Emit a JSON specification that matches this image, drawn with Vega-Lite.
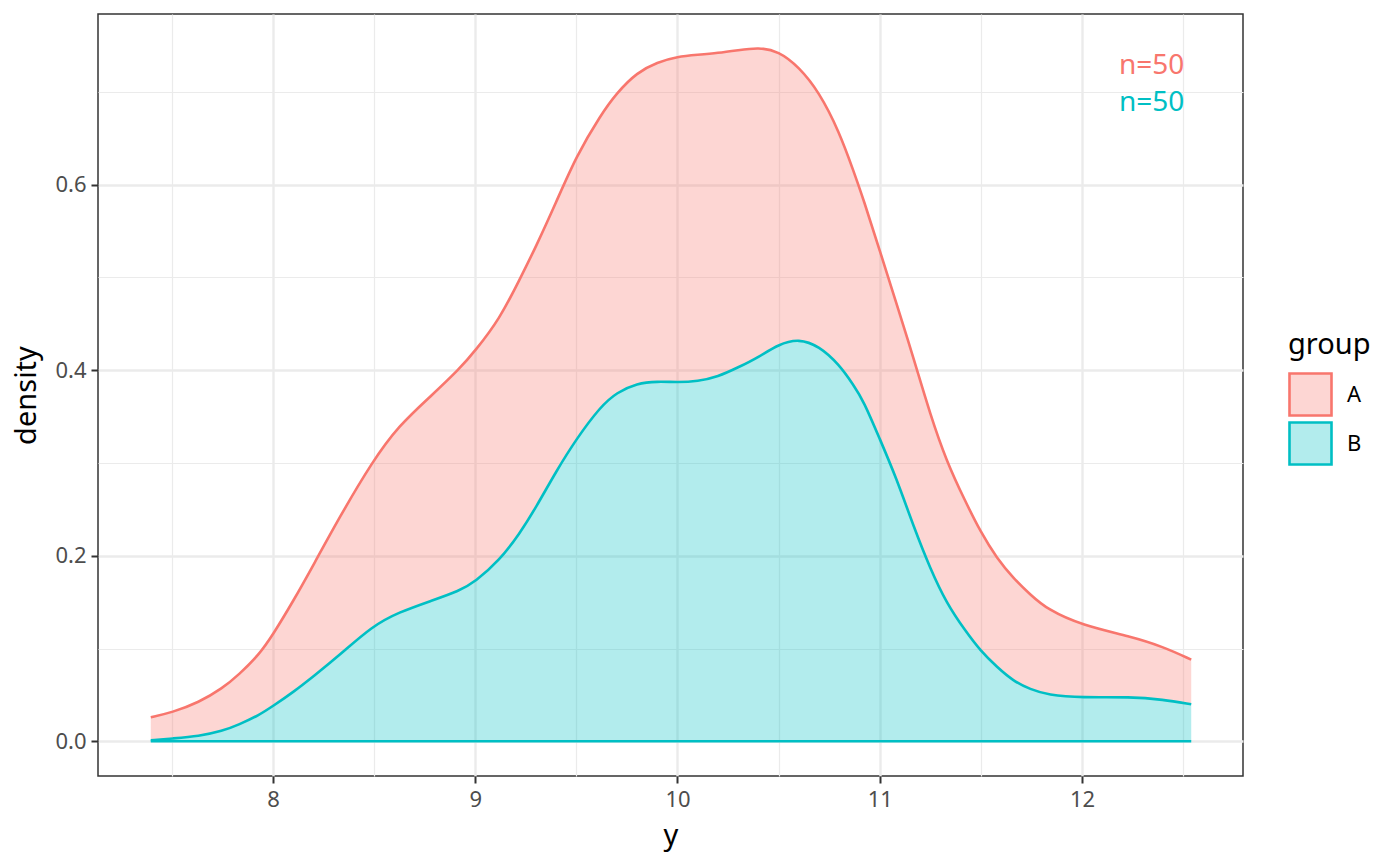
{
  "$schema": "https://vega.github.io/schema/vega-lite/v6.json",
  "width": 1145,
  "height": 762,
  "autosize": "none",
  "padding": {"left": 98, "top": 14, "right": 157, "bottom": 90},
  "background": "white",
  "config": {
    "font": "Noto Sans",
    "view": {"stroke": "#333333", "strokeWidth": 1.5},
    "axis": {
      "domain": false,
      "gridColor": "#EBEBEB",
      "tickColor": "#333333",
      "tickWidth": 2,
      "tickSize": 7,
      "labelColor": "#4D4D4D",
      "labelFontSize": 22,
      "titleFontSize": 29,
      "titleFontWeight": "normal",
      "titleColor": "#000000"
    }
  },
  "datasets": {
    "curves": [
      {"y": 7.396, "A": 0.026, "B": 0.001},
      {"y": 7.5, "A": 0.031, "B": 0.003},
      {"y": 7.634, "A": 0.042, "B": 0.0055},
      {"y": 7.75, "A": 0.057, "B": 0.011},
      {"y": 7.832, "A": 0.072, "B": 0.018},
      {"y": 7.93, "A": 0.093, "B": 0.028},
      {"y": 8.0, "A": 0.115, "B": 0.038},
      {"y": 8.1, "A": 0.151, "B": 0.053},
      {"y": 8.2, "A": 0.19, "B": 0.07},
      {"y": 8.33, "A": 0.242, "B": 0.093},
      {"y": 8.49, "A": 0.301, "B": 0.124},
      {"y": 8.62, "A": 0.34, "B": 0.139},
      {"y": 8.79, "A": 0.374, "B": 0.152},
      {"y": 8.92, "A": 0.401, "B": 0.162},
      {"y": 9.0, "A": 0.421, "B": 0.172},
      {"y": 9.12, "A": 0.455, "B": 0.195},
      {"y": 9.22, "A": 0.498, "B": 0.224},
      {"y": 9.3, "A": 0.533, "B": 0.252},
      {"y": 9.4, "A": 0.581, "B": 0.291},
      {"y": 9.5, "A": 0.631, "B": 0.326},
      {"y": 9.62, "A": 0.675, "B": 0.361},
      {"y": 9.7, "A": 0.699, "B": 0.376},
      {"y": 9.8, "A": 0.721, "B": 0.386},
      {"y": 9.9, "A": 0.732, "B": 0.388},
      {"y": 10.0, "A": 0.738, "B": 0.387},
      {"y": 10.1, "A": 0.74, "B": 0.388},
      {"y": 10.2, "A": 0.742, "B": 0.393},
      {"y": 10.3, "A": 0.745, "B": 0.403},
      {"y": 10.4, "A": 0.748, "B": 0.414},
      {"y": 10.5, "A": 0.744, "B": 0.428},
      {"y": 10.6, "A": 0.727, "B": 0.434},
      {"y": 10.7, "A": 0.7, "B": 0.426},
      {"y": 10.8, "A": 0.657, "B": 0.406},
      {"y": 10.87, "A": 0.615, "B": 0.384},
      {"y": 10.92, "A": 0.584, "B": 0.367},
      {"y": 11.0, "A": 0.529, "B": 0.326},
      {"y": 11.08, "A": 0.474, "B": 0.285},
      {"y": 11.17, "A": 0.411, "B": 0.23},
      {"y": 11.25, "A": 0.352, "B": 0.186},
      {"y": 11.33, "A": 0.302, "B": 0.149},
      {"y": 11.42, "A": 0.26, "B": 0.12},
      {"y": 11.5, "A": 0.225, "B": 0.097},
      {"y": 11.58, "A": 0.197, "B": 0.08},
      {"y": 11.66, "A": 0.176, "B": 0.065},
      {"y": 11.745, "A": 0.158, "B": 0.056},
      {"y": 11.83, "A": 0.142, "B": 0.05},
      {"y": 12.0, "A": 0.125, "B": 0.047},
      {"y": 12.24, "A": 0.113, "B": 0.048},
      {"y": 12.4, "A": 0.102, "B": 0.045},
      {"y": 12.54, "A": 0.088, "B": 0.04}
    ],
    "labels": [
      {"group": "A", "label": "n=50", "x": 12.506, "yv": 0.7197},
      {"group": "B", "label": "n=50", "x": 12.506, "yv": 0.679}
    ]
  },
  "layer": [
    {
      "data": {"name": "curves"},
      "mark": {"type": "area", "interpolate": "basis", "fill": "#F8766D", "fillOpacity": 0.3},
      "encoding": {
        "x": {
          "field": "y", "type": "quantitative",
          "scale": {"domain": [7.135, 12.796], "nice": false, "zero": false},
          "axis": {
            "title": "y",
            "values": [7.5, 8, 8.5, 9, 9.5, 10, 10.5, 11, 11.5, 12, 12.5],
            "labelExpr": "floor(datum.value) === datum.value ? format(datum.value, 'd') : ''",
            "gridWidth": {"condition": {"test": "floor(datum.value) !== datum.value", "value": 1.2}, "value": 2.4},
            "tickOpacity": {"condition": {"test": "floor(datum.value) !== datum.value", "value": 0}, "value": 1},
            "labelPadding": 6,
            "titlePadding": 11
          }
        },
        "y": {
          "field": "A", "type": "quantitative",
          "scale": {"domain": [-0.0374, 0.784], "nice": false, "zero": false},
          "axis": {
            "title": "density",
            "values": [0, 0.1, 0.2, 0.3, 0.4, 0.5, 0.6, 0.7],
            "format": ".1f",
            "labelExpr": "round(datum.value * 10) % 2 === 0 ? datum.label : ''",
            "gridWidth": {"condition": {"test": "round(datum.value * 10) % 2 !== 0", "value": 1.2}, "value": 2.4},
            "tickOpacity": {"condition": {"test": "round(datum.value * 10) % 2 !== 0", "value": 0}, "value": 1},
            "labelPadding": 5,
            "titlePadding": 13
          }
        },
        "y2": {"field": "B"}
      }
    },
    {
      "data": {"name": "curves"},
      "mark": {"type": "area", "interpolate": "basis", "fill": "#00BFC4", "fillOpacity": 0.3},
      "encoding": {
        "x": {"field": "y", "type": "quantitative"},
        "y": {"field": "B", "type": "quantitative"},
        "y2": {"datum": 0}
      }
    },
    {
      "data": {"name": "curves"},
      "transform": [{"fold": ["A", "B"], "as": ["group", "density"]}],
      "mark": {"type": "line", "interpolate": "basis", "strokeWidth": 2.6},
      "encoding": {
        "x": {"field": "y", "type": "quantitative"},
        "y": {"field": "density", "type": "quantitative"},
        "color": {
          "field": "group", "type": "nominal",
          "scale": {"domain": ["A", "B"], "range": ["#F8766D", "#00BFC4"]},
          "legend": {
            "title": "group",
            "orient": "none",
            "legendX": 1190,
            "legendY": 317,
            "symbolType": "square",
            "symbolSize": 1764,
            "symbolStrokeWidth": 2.6,
            "titleFontSize": 29,
            "titleFontWeight": "normal",
            "titleColor": "#000000",
            "titlePadding": 12,
            "labelFontSize": 22,
            "labelColor": "#000000",
            "labelOffset": 14,
            "rowPadding": -9,
            "encode": {
              "symbols": {
                "update": {
                  "fill": {"scale": "color", "field": "value"},
                  "fillOpacity": {"value": 0.3},
                  "stroke": {"scale": "color", "field": "value"},
                  "strokeOpacity": {"value": 1},
                  "strokeWidth": {"value": 2.6}
                }
              }
            }
          }
        }
      }
    },
    {
      "data": {"name": "curves"},
      "mark": {"type": "line", "color": "#00BFC4", "strokeWidth": 2.6},
      "encoding": {
        "x": {"field": "y", "type": "quantitative"},
        "y": {"datum": 0}
      }
    },
    {
      "data": {"name": "labels"},
      "mark": {"type": "text", "align": "right", "baseline": "alphabetic", "fontSize": 28},
      "encoding": {
        "x": {"field": "x", "type": "quantitative"},
        "y": {"field": "yv", "type": "quantitative"},
        "text": {"field": "label"},
        "color": {"field": "group", "type": "nominal"}
      }
    }
  ]
}
